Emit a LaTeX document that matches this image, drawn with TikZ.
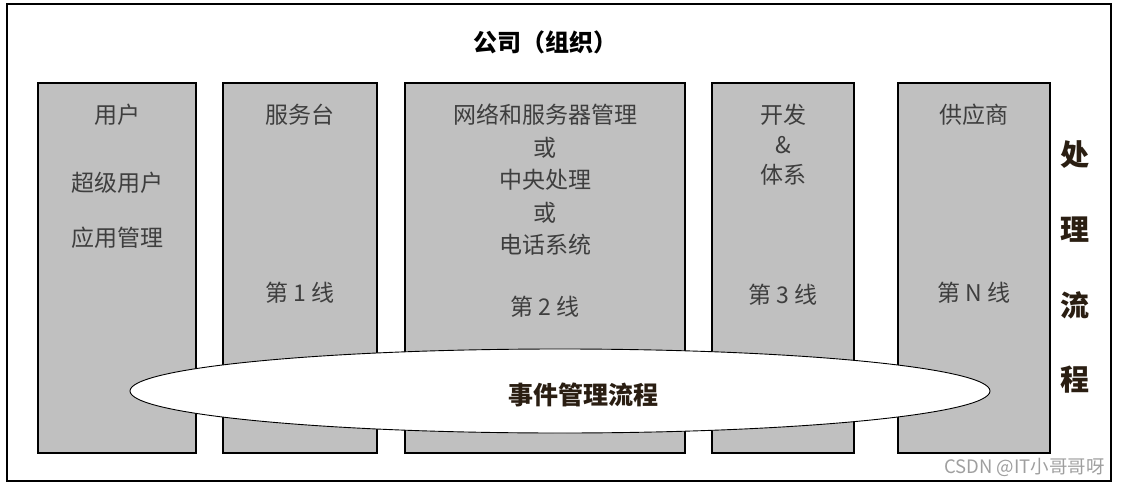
\documentclass[tikz,border=0pt]{standalone}
\usepackage{fontspec}
\setmainfont{Noto Sans CJK SC}
\usetikzlibrary{shapes.geometric, positioning}

\definecolor{boxgray}{HTML}{C0C0C0}
\definecolor{txtgray}{HTML}{3E3E3E}
\definecolor{darktxt}{HTML}{2A1E12}

\begin{document}
\begin{tikzpicture}[x=1pt, y=-1pt,
        col_box/.style={
            draw, rectangle, line width=1.4pt, fill=boxgray,
            minimum height=370pt, inner sep=0pt
        },
        col_text/.style={
            text=txtgray, font=\fontsize{23}{32.5}\selectfont, align=center, inner sep=0pt
        },
        side_text/.style={
            text=darktxt, font=\fontsize{29}{30}\selectfont\bfseries, inner sep=0pt
        }
    ]
    \useasboundingbox (0,0) rectangle (1122,487);

    % Outer frame and title
    \node[draw, line width=1.6pt, minimum width=1104pt, minimum height=477pt, inner sep=0pt] (frame) at (559,242.5) {};
    \node[font=\fontsize{24}{28}\selectfont\bfseries, inner sep=0pt] (title) at (545,42) {公司（组织）};

    % Columns (left to right)
    \node[col_box, minimum width=158pt] (C1) at (117,268) {};
    \node[col_box, minimum width=154pt] (C2) at (300,268) {};
    \node[col_box, minimum width=280pt] (C3) at (545,268) {};
    \node[col_box, minimum width=142pt] (C4) at (783,268) {};
    \node[col_box, minimum width=152pt] (C5) at (974,268) {};

    % Column texts
    \node[col_text] (C1a) at (117,115) {用户};
    \node[col_text] (C1b) at (117,183) {超级用户};
    \node[col_text] (C1c) at (117,238) {应用管理};
    \node[col_text] (C2a) at (300,115) {服务台};
    \node[col_text] (C2b) at (300,293) {第 1 线};
    \node[col_text] (C3a) at (545,180) {网络和服务器管理\\或\\中央处理\\或\\电话系统};
    \node[col_text] (C3b) at (545,307) {第 2 线};
    \node[col_text, font=\fontsize{23}{30}\selectfont] (C4a) at (783,145) {开发\\\&\\体系};
    \node[col_text] (C4b) at (783,295) {第 3 线};
    \node[col_text] (C5a) at (974,115) {供应商};
    \node[col_text] (C5b) at (974,293) {第 N 线};

    % Incident process ellipse
    \node[ellipse, draw, line width=0.9pt, fill=white, minimum width=860pt, minimum height=84pt, inner sep=0pt] (E) at (560,391) {};
    \node[text=darktxt, font=\fontsize{25}{28}\selectfont\bfseries, inner sep=0pt] (Etxt) at (583,395) {事件管理流程};

    % Vertical side label
    \foreach \ch/\yy in {处/155, 理/230, 流/305, 程/380}
        \node[side_text] (S\yy) at (1075,\yy) {\ch};

    % Watermark
    \node[text=gray!75, font=\fontsize{18.5}{20}\selectfont, anchor=east, inner sep=0pt] (mark) at (1105,467) {CSDN @IT小哥哥呀};

\end{tikzpicture}
\end{document}
